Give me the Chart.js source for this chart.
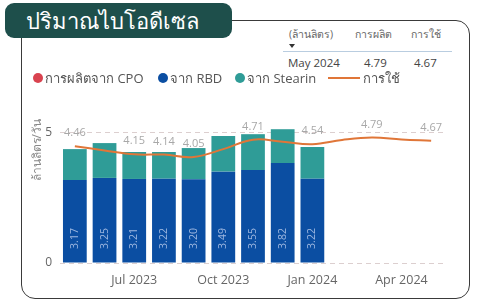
<!DOCTYPE html>
<html>
<head>
<meta charset="utf-8">
<script src="https://cdn.jsdelivr.net/npm/chart.js@4.4.1/dist/chart.umd.min.js"></script>
<style>
  body { margin: 0; width: 479px; height: 304px; background: #fff; position: relative; overflow: hidden;
         font-family: "Open Sans", "Noto Sans", sans-serif; }
  .card { position: absolute; left: 21px; top: 20px; width: 447px; height: 277px;
          border: 1.5px solid #3a3a3a; border-radius: 14px; }
  .title { position: absolute; left: 5px; top: 3px; width: 227px; height: 35px; background: #1e4f4b;
           border-radius: 9px; color: #fff; font-size: 22px; line-height: 35px; padding-left: 21px;
           box-sizing: border-box; z-index: 2; }
  .hdr { position: absolute; font-size: 10.5px; color: #666; white-space: nowrap; }
  .rule { position: absolute; left: 283px; top: 51px; width: 169px; height: 1px; background: #b9cde0; }
  .tri { position: absolute; left: 289px; top: 44px; width: 0; height: 0;
         border-left: 3px solid transparent; border-right: 3px solid transparent; border-top: 4px solid #333; }
  #wrap { position: absolute; left: 24px; top: 66px; width: 446px; height: 232px; }
</style>
</head>
<body>
<div class="card"></div>
<div class="title">ปริมาณไบโอดีเซล</div>
<div class="hdr" style="left:289px;top:26px;">(ล้านลิตร)</div>
<div class="hdr" style="left:355px;top:26px;">การผลิต</div>
<div class="hdr" style="left:411px;top:26px;">การใช้</div>
<div class="tri"></div>
<div class="rule"></div>
<div class="hdr" style="left:288px;top:55px;color:#444;font-size:11.5px;" id="hMonth"></div>
<div class="hdr" style="left:364px;top:55px;color:#444;font-size:11.5px;" id="hProd"></div>
<div class="hdr" style="left:414px;top:55px;color:#444;font-size:11.5px;" id="hUse"></div>
<div id="wrap"><canvas id="chart"></canvas></div>
<script>
const months = ['May 2023', 'Jun 2023', 'Jul 2023', 'Aug 2023', 'Sep 2023', 'Oct 2023', 'Nov 2023',
  'Dec 2023', 'Jan 2024', 'Feb 2024', 'Mar 2024', 'Apr 2024', 'May 2024'];
const cpo = [null, null, null, null, null, null, null, null, null, null, null, null, null];
const rbd = [3.17, 3.25, 3.21, 3.22, 3.20, 3.49, 3.55, 3.82, 3.22, null, null, null, null];
const stearin = [1.18, 1.33, 1.03, 1.02, 1.19, 1.36, 1.37, 1.29, 1.21, null, null, null, null];
const usage = [4.46, 4.30, 4.15, 4.14, 4.05, 4.35, 4.71, 4.63, 4.54, 4.70, 4.79, 4.72, 4.67];
const usageLabelIdx = [0, 2, 3, 4, 6, 8, 10, 12];
const yTicks = [0, 5];
const latest = { month: 'May 2024', prod: 4.79, use: 4.67 };

document.getElementById('hMonth').textContent = latest.month;
document.getElementById('hProd').textContent = latest.prod.toFixed(2);
document.getElementById('hUse').textContent = latest.use.toFixed(2);

const FONT = '"Open Sans", "Noto Sans", sans-serif';
// legend item start positions inside the canvas
const legendX = [9, 134, 211, 304];

const legendRow = {
  id: 'legendRow',
  afterDraw(chart) {
    const ctx = chart.ctx;
    ctx.save();
    ctx.font = '13px ' + FONT;
    ctx.textBaseline = 'middle';
    const y = 12;
    chart.data.datasets.forEach((ds, i) => {
      let x = legendX[i];
      if (ds.type === 'line') {
        ctx.strokeStyle = ds.borderColor;
        ctx.lineWidth = 2;
        ctx.beginPath();
        ctx.moveTo(x, y);
        ctx.lineTo(x + 32, y);
        ctx.stroke();
        x += 35;
      } else {
        ctx.fillStyle = ds.backgroundColor;
        ctx.beginPath();
        ctx.arc(x + 5, y, 5, 0, Math.PI * 2);
        ctx.fill();
        x += 12;
      }
      ctx.fillStyle = '#555';
      ctx.fillText(ds.label, x, y + 1);
    });
    ctx.restore();
  }
};

// value labels: rotated RBD values inside bars, usage values above the line
const valueLabels = {
  id: 'valueLabels',
  afterDatasetsDraw(chart) {
    const ctx = chart.ctx;
    ctx.save();
    const barMeta = chart.getDatasetMeta(1);
    ctx.font = '10.5px ' + FONT;
    ctx.fillStyle = '#9db7e0';
    ctx.textAlign = 'center';
    ctx.textBaseline = 'middle';
    barMeta.data.forEach((el, i) => {
      if (rbd[i] == null) return;
      ctx.save();
      ctx.translate(el.x, el.base - 24);
      ctx.rotate(-Math.PI / 2);
      ctx.fillText(rbd[i].toFixed(2), 0, 0);
      ctx.restore();
    });
    const lineMeta = chart.getDatasetMeta(3);
    ctx.fillStyle = '#a8a8a8';
    ctx.font = '11px ' + FONT;
    usageLabelIdx.forEach(i => {
      const p = lineMeta.data[i];
      ctx.fillText(usage[i].toFixed(2), p.x, p.y - 13);
    });
    ctx.restore();
  }
};

new Chart(document.getElementById('chart'), {
  data: {
    labels: months,
    datasets: [
      { type: 'bar', label: 'การผลิตจาก CPO', data: cpo, backgroundColor: '#d9434f', stack: 'p', order: 1 },
      { type: 'bar', label: 'จาก RBD', data: rbd, backgroundColor: '#0b4ea2', stack: 'p', order: 1 },
      { type: 'bar', label: 'จาก Stearin', data: stearin, backgroundColor: '#2f9c97', stack: 'p', order: 1 },
      { type: 'line', label: 'การใช้', data: usage, borderColor: '#e07638', borderWidth: 2,
        pointRadius: 0, tension: 0.4, fill: false, order: 0 }
    ]
  },
  options: {
    responsive: true,
    maintainAspectRatio: false,
    animation: false,
    layout: { padding: { top: 53, right: 24, left: 0, bottom: 0 } },
    datasets: { bar: { barPercentage: 0.8, categoryPercentage: 1 } },
    plugins: { legend: { display: false }, tooltip: { enabled: false } },
    scales: {
      x: {
        stacked: true,
        grid: { display: false, drawTicks: false },
        border: { display: false },
        ticks: {
          autoSkip: false, maxRotation: 0, padding: 10,
          color: '#666', font: { family: FONT, size: 12.5 },
          callback: (v, i) => (i % 3 === 2 ? months[i] : '')
        },
        afterFit: (s) => { s.height = 35; }
      },
      y: {
        stacked: true,
        min: 0,
        max: 5.5,
        afterBuildTicks: (s) => { s.ticks = yTicks.map(v => ({ value: v })); },
        grid: { color: '#dccfcf', drawTicks: false, lineWidth: 1 },
        border: { display: false, dash: [5, 4] },
        ticks: { padding: 8, color: '#666', font: { family: FONT, size: 12 } },
        title: { display: true, text: 'ล้านลิตร/วัน', align: 'end', color: '#888',
                 font: { family: FONT, size: 12 }, padding: { top: 6, bottom: 0 } },
        afterFit: (s) => { s.width = 36; }
      }
    }
  },
  plugins: [legendRow, valueLabels]
});
</script>
</body>
</html>
